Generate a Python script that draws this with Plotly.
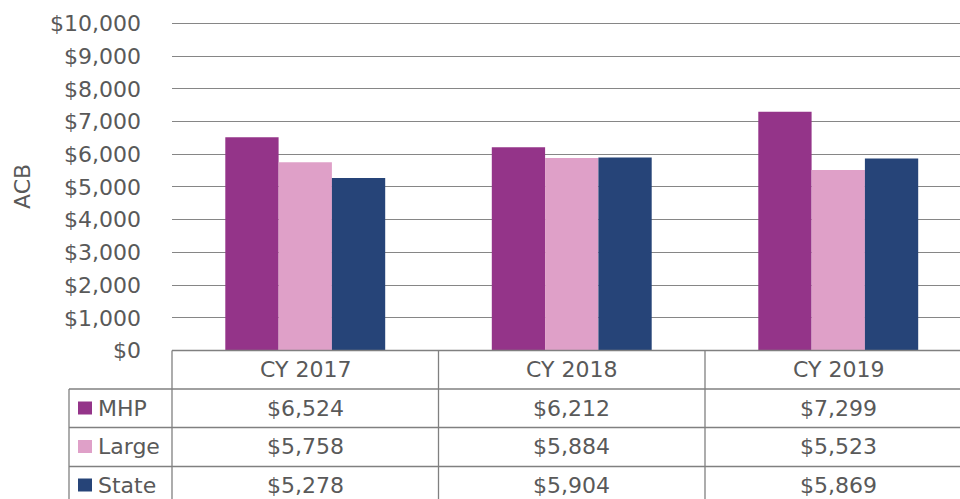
import plotly.graph_objects as go

categories = ["CY 2017", "CY 2018", "CY 2019"]
series_names = ["MHP", "Large", "State"]
mhp = [6524, 6212, 7299]
large = [5758, 5884, 5523]
state = [5278, 5904, 5869]
colors = ["#943489", "#DFA0C8", "#264478"]
y_ticks = list(range(0, 10001, 1000))
y_ticktext = [f"${v:,}" for v in y_ticks]

W, H = 960, 499
FONT = "DejaVu Sans, Liberation Sans, Arial, sans-serif"
FS = 22
TXT = "#595959"
LINE = "#808080"

def px(x):
    return x / W

def py(y):
    return 1 - y / H

values = [mhp, large, state]
fig = go.Figure()
for name, vals, c in zip(series_names, values, colors):
    fig.add_trace(go.Bar(
        name=name, x=list(range(len(categories))), y=vals,
        marker=dict(color=c, line=dict(width=0)),
        showlegend=False,
    ))

x_lo, x_hi = 172, 960
spacing = 266.5
xmax = (x_hi - x_lo) / spacing - 0.5

# pixel positions of the value axis ($0 and $10,000)
y0_px, y10k_px = 350.5, 23.5
per_unit = (y0_px - y10k_px) / 10000
ymax = 10060
top_px = y0_px - ymax * per_unit

fig.update_layout(
    width=W, height=H,
    margin=dict(l=0, r=0, t=0, b=0, autoexpand=False),
    paper_bgcolor="white", plot_bgcolor="white",
    barmode="group", bargap=0.4, bargroupgap=0,
    font=dict(family=FONT, size=FS, color=TXT),
    xaxis=dict(domain=[px(x_lo), 1], range=[-0.5, xmax],
               showticklabels=False, showgrid=False, zeroline=False,
               ticks="", fixedrange=True, automargin=False),
    yaxis=dict(domain=[py(y0_px), py(top_px)], range=[0, ymax],
               tickmode="array", tickvals=y_ticks, ticktext=y_ticktext,
               showgrid=True, gridcolor="#868686", gridwidth=1.2,
               zeroline=False, ticks="", ticklabelstandoff=30,
               automargin=False, fixedrange=True,
               tickfont=dict(family=FONT, size=FS, color=TXT)),
    showlegend=False,
)

shapes = []
shapes.append(dict(type="line", xref="paper", yref="paper",
                   x0=px(172), x1=1, y0=py(350.5), y1=py(350.5),
                   line=dict(color=LINE, width=1.3)))
for yy in [389, 427.5, 466.5]:
    shapes.append(dict(type="line", xref="paper", yref="paper",
                       x0=px(69), x1=1, y0=py(yy), y1=py(yy),
                       line=dict(color=LINE, width=1.3)))
shapes.append(dict(type="line", xref="paper", yref="paper",
                   x0=px(172), x1=px(172), y0=py(350.5), y1=0,
                   line=dict(color=LINE, width=1.3)))
shapes.append(dict(type="line", xref="paper", yref="paper",
                   x0=px(69), x1=px(69), y0=py(389), y1=0,
                   line=dict(color=LINE, width=1.3)))
for i in range(len(categories) - 1):
    shapes.append(dict(type="line", xref="x", yref="paper",
                       x0=i + 0.5, x1=i + 0.5, y0=py(350.5), y1=0,
                       line=dict(color=LINE, width=1.3)))

annotations = []
row_centers = [408, 446.5, 485]
header_center = 369.5
for i, cat in enumerate(categories):
    annotations.append(dict(text=cat, xref="x", yref="paper", x=i, y=py(header_center),
                            showarrow=False, xanchor="center", yanchor="middle",
                            font=dict(family=FONT, size=FS, color=TXT)))
for r, (name, vals, c) in enumerate(zip(series_names, values, colors)):
    yc = row_centers[r]
    shapes.append(dict(type="rect", xref="paper", yref="paper",
                       x0=px(78), x1=px(92), y0=py(yc - 6.5), y1=py(yc + 6.5),
                       fillcolor=c, line=dict(width=0)))
    annotations.append(dict(text=name, xref="paper", yref="paper", x=px(96), y=py(yc),
                            showarrow=False, xanchor="left", yanchor="middle",
                            font=dict(family=FONT, size=FS, color=TXT)))
    for i, v in enumerate(vals):
        annotations.append(dict(text=f"${v:,}", xref="x", yref="paper", x=i, y=py(yc),
                                showarrow=False, xanchor="center", yanchor="middle",
                                font=dict(family=FONT, size=FS, color=TXT)))

annotations.append(dict(text="ACB", xref="paper", yref="paper", x=px(22), y=py(187),
                        showarrow=False, textangle=-90, xanchor="center", yanchor="middle",
                        font=dict(family=FONT, size=FS, color=TXT)))

fig.update_layout(shapes=shapes, annotations=annotations)
fig.write_html("out.html",
               config={"displayModeBar": False},
               post_script="document.body.style.margin='0';document.body.style.overflow='hidden';")
